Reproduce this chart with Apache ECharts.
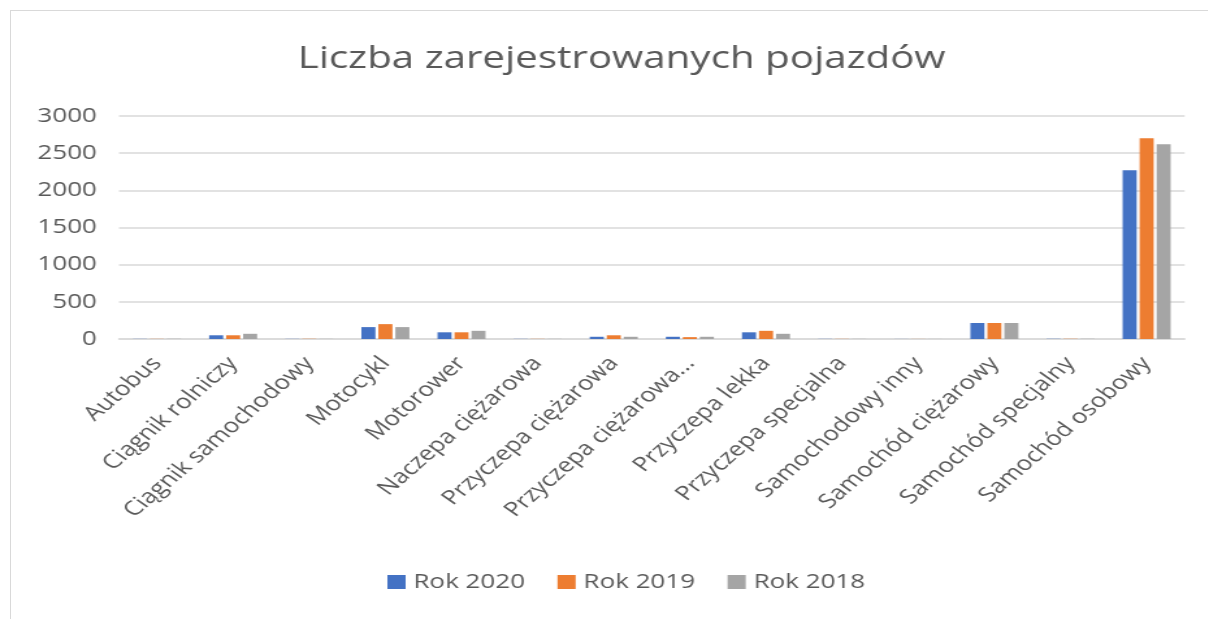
<!DOCTYPE html>
<html>
<head>
<meta charset="utf-8">
<script src="https://cdn.jsdelivr.net/npm/echarts@6/dist/echarts.min.js"></script>
<style>
  html, body { margin: 0; padding: 0; background: #fff; overflow: hidden; }
  #frame { position: absolute; left: 10px; top: 10px; width: 1300px; height: 700px; border: 1px solid #d9d9d9; }
  /* oryginalny wykres jest rozciągnięty w poziomie ok. 1.3x */
  #myChart { position: absolute; left: 0; top: 0; width: 929px; height: 619px; transform: scaleX(1.3); transform-origin: 0 0; }
</style>
</head>
<body>
<div id="frame"></div>
<div id="myChart"></div>
<script>
// kategorie pojazdów
var categories = ['Autobus', 'Ciągnik rolniczy', 'Ciągnik samochodowy', 'Motocykl', 'Motorower',
  'Naczepa ciężarowa', 'Przyczepa ciężarowa', 'Przyczepa ciężarowa...', 'Przyczepa lekka',
  'Przyczepa specjalna', 'Samochodowy inny', 'Samochód ciężarowy', 'Samochód specjalny', 'Samochód osobowy']
var rok2020 = [2, 50, 2, 160, 90, 2, 30, 30, 90, 2, 1, 215, 3, 2270]
var rok2019 = [2, 50, 3, 200, 90, 2, 50, 25, 110, 2, 1, 215, 3, 2700]
var rok2018 = [3, 70, 2, 160, 110, 2, 30, 30, 70, 2, 1, 215, 3, 2620]
var yTicks = [0, 500, 1000, 1500, 2000, 2500, 3000]

var myChart = echarts.init(document.getElementById('myChart'))
var font = '"Open Sans", sans-serif'
function serie(name, data, color) {
  return {
    name: name,
    type: 'bar',
    barWidth: 10.8,
    barGap: '21%',
    data: data,
    itemStyle: { color: color }
  }
}
myChart.setOption({
  animation: false,
  title: {
    text: 'Liczba zarejestrowanych pojazdów',
    left: 224,
    top: 39,
    textStyle: { color: '#595959', fontWeight: 'normal', fontSize: 31, fontFamily: font }
  },
  legend: {
    bottom: 22,
    left: 293,
    itemWidth: 14,
    itemHeight: 14,
    itemGap: 25,
    icon: 'rect',
    textStyle: { color: '#595959', fontSize: 20, fontFamily: font, padding: [0, 0, 0, 1] }
  },
  grid: { left: 91.5, right: 17.7, top: 116, bottom: 280 },
  xAxis: {
    type: 'category',
    data: categories,
    axisLine: { lineStyle: { color: '#d9d9d9', width: 1.5 } },
    axisTick: { show: false },
    axisLabel: {
      interval: 0,
      rotate: 48,
      margin: 21,
      color: '#595959',
      fontSize: 20,
      fontFamily: font
    }
  },
  yAxis: {
    type: 'value',
    min: yTicks[0],
    max: yTicks[yTicks.length - 1],
    interval: 500,
    axisLine: { show: false },
    axisTick: { show: false },
    splitLine: { lineStyle: { color: '#d9d9d9', width: 1.5 } },
    axisLabel: { color: '#595959', fontSize: 20, fontFamily: font, margin: 17, formatter: function (v) { return String(v) } }
  },
  series: [
    serie('Rok 2020', rok2020, '#4472c4'),
    serie('Rok 2019', rok2019, '#ed7d31'),
    serie('Rok 2018', rok2018, '#a5a5a5')
  ]
})
</script>
</body>
</html>
